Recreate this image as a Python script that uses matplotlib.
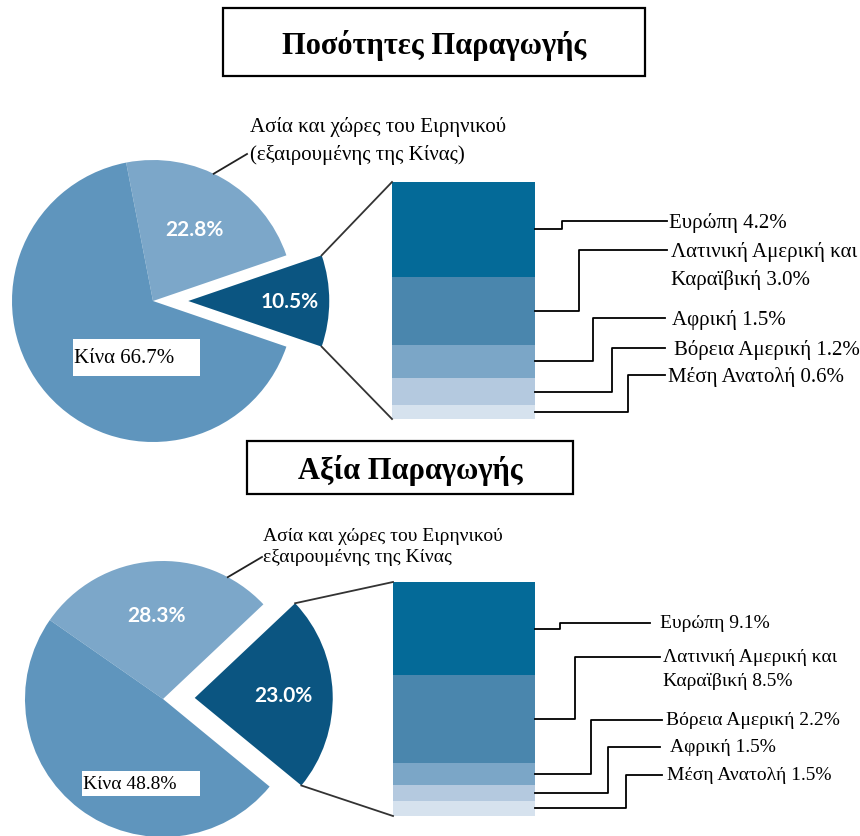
import matplotlib
matplotlib.use("Agg")
import matplotlib.pyplot as plt
from matplotlib.patches import Rectangle
import numpy as np

W, H = 860, 837

# Ποσότητες παραγωγής: λοιπός κόσμος, Ασία-Ειρηνικός, Κίνα
qty_pie = [10.5, 22.8, 66.7]
qty_regions = ["Ευρώπη", "Λατινική Αμερική και\nΚαραϊβική", "Αφρική", "Βόρεια Αμερική", "Μέση Ανατολή"]
qty_region_vals = [4.2, 3.0, 1.5, 1.2, 0.6]

# Αξία παραγωγής
val_pie = [23.0, 28.3, 48.8]
val_regions = ["Ευρώπη", "Λατινική Αμερική και\nΚαραϊβική", "Βόρεια Αμερική", "Αφρική", "Μέση Ανατολή"]
val_region_vals = [9.1, 8.5, 2.2, 1.5, 1.5]

asia_qty = "Ασία και χώρες του Ειρηνικού\n(εξαιρουμένης της Κίνας)"
asia_val = "Ασία και χώρες του Ειρηνικού\nεξαιρουμένης της Κίνας"

PIE_COLORS = ["#0b5581", "#7ca7c9", "#5f95bd"]
BAR_COLORS = ["#046a98", "#4a86ad", "#7ba6c7", "#b4c9df", "#d6e2ee"]
SERIF = "Liberation Serif"
SANS = "Lato"

fig = plt.figure(figsize=(W / 100, H / 100), dpi=100)
ov = fig.add_axes([0, 0, 1, 1])
ov.set_xlim(0, W)
ov.set_ylim(H, 0)
ov.axis("off")
ov.set_zorder(10)


def px_rect(x0, y0, x1, y1):
    return [x0 / W, (H - y1) / H, (x1 - x0) / W, (y1 - y0) / H]


def to_px(ax, x, y):
    return ov.transData.inverted().transform(ax.transData.transform((x, y)))


def label(x, y, s, fs, lsp=1.2):
    # y = keskimesi tis protis grammis
    ov.text(x, y - 0.45 * fs * 100 / 72, s, ha="left", va="top",
            fontsize=fs, family=SERIF, linespacing=lsp)


def panel(title, tbox, tsize, pie_vals, center, radius, start, explode, pct_dist,
          asia_text, asia_xy, asia_ang, asia_end, asia_lsp, china_box,
          bar_box, names, vals, elbows, label_ys, ends, label_xs, fsize, lsp):
    # titlos
    x0, y0, x1, y1 = tbox
    ov.add_patch(Rectangle((x0, y0), x1 - x0, y1 - y0, fill=False, ec="black", lw=1.6))
    ov.text((x0 + x1) / 2, (y0 + y1) / 2 + 2, title, ha="center", va="center",
            fontsize=tsize, fontweight="bold", family=SERIF)

    # pita
    cx, cy = center
    S = radius * 1.4
    pax = fig.add_axes(px_rect(cx - S, cy - S, cx + S, cy + S))
    wedges, _ = pax.pie(pie_vals, colors=PIE_COLORS, startangle=start,
                        counterclock=True, explode=[explode, 0, 0], radius=1)
    pax.set_xlim(-1.4, 1.4)
    pax.set_ylim(-1.4, 1.4)
    pax.set_aspect("auto")
    pax.axis("off")

    for w, v, d in zip(wedges[:2], pie_vals[:2], pct_dist):
        mid = np.deg2rad((w.theta1 + w.theta2) / 2)
        pax.text(w.center[0] + d * np.cos(mid), w.center[1] + d * np.sin(mid),
                 f"{v:.1f}%", ha="center", va="center", color="white",
                 fontsize=15, fontweight="bold", family=SANS)

    # Asia label
    a = np.deg2rad(asia_ang)
    sx, sy = to_px(pax, np.cos(a), np.sin(a))
    ov.plot([sx, asia_end[0]], [sy, asia_end[1]], color="#222222", lw=1.3)
    label(asia_xy[0], asia_xy[1], asia_text, fsize, asia_lsp)

    # Kina label
    bx0, by0, bx1, by1 = china_box
    ov.add_patch(Rectangle((bx0, by0), bx1 - bx0, by1 - by0, fc="white", ec="none"))
    label(bx0 + 1, (by0 + by1) / 2, f"Κίνα {pie_vals[2]:.1f}%", fsize)

    # stili
    bax = fig.add_axes(px_rect(*bar_box))
    bottoms = np.concatenate([[0], np.cumsum(vals)[:-1]])
    bax.bar([0] * len(vals), vals, bottom=bottoms, width=1.0,
            color=BAR_COLORS, linewidth=0)
    bax.set_xlim(-0.5, 0.5)
    bax.set_ylim(sum(vals), 0)
    bax.axis("off")

    # grammes syndesis pitas - stilis
    w0 = wedges[0]
    for th, yb in [(w0.theta2, 0), (w0.theta1, sum(vals))]:
        t = np.deg2rad(th)
        p = to_px(pax, w0.center[0] + np.cos(t), w0.center[1] + np.sin(t))
        q = to_px(bax, -0.5, yb)
        ov.plot([p[0], q[0]], [p[1], q[1]], color="#333333", lw=1.3)

    for i, (name, v) in enumerate(zip(names, vals)):
        rx, ry = to_px(bax, 0.5, bottoms[i] + v / 2)
        ly = label_ys[i]
        ov.plot([rx, elbows[i], elbows[i], ends[i]], [ry, ry, ly, ly],
                color="black", lw=1.3)
        label(label_xs[i], ly, f"{name} {v:.1f}%", fsize, lsp)


panel("Ποσότητες Παραγωγής", (223, 9, 645, 77), 22, qty_pie, (153, 302), 141,
      -18.9, 0.25, [0.72, 0.59],
      asia_qty, (250, 126), 64.5, (247, 155), 1.53, (73, 340, 200, 377),
      (392, 183, 535, 420), qty_regions, qty_region_vals,
      [562, 579, 593, 612, 628], [222, 251, 319, 349, 376],
      [667, 667, 665, 665, 665], [669, 671, 672, 674, 668], 15, 1.58)

panel("Αξία Παραγωγής", (247, 442, 573, 495), 22, val_pie, (163, 700), 138,
      -39.4, 0.23, [0.64, 0.61],
      asia_val, (263, 537), 62, (262, 558), 1.28, (82, 772, 200, 797),
      (393, 583, 535, 817), val_regions, val_region_vals,
      [560, 575, 591, 608, 626], [624, 658, 721, 748, 776],
      [650, 660, 662, 660, 662], [660, 663, 666, 670, 667], 14, 1.5)

fig.savefig("out.png", dpi=100)
